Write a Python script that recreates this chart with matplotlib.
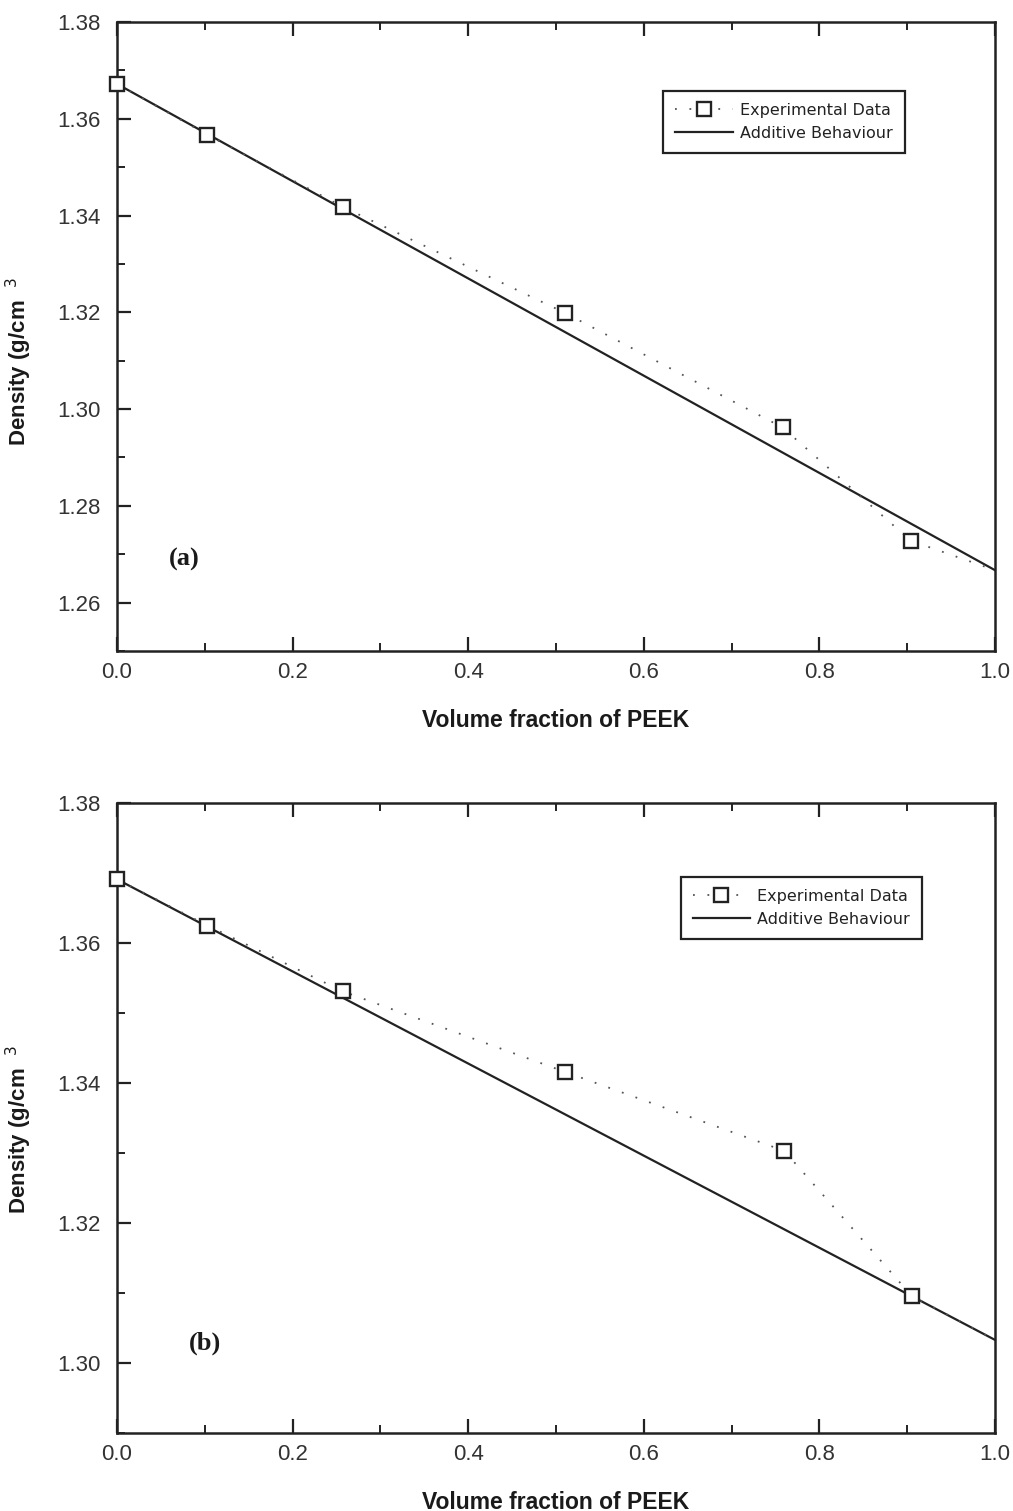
import matplotlib
matplotlib.use("Agg")
import matplotlib.pyplot as plt
from matplotlib.ticker import MultipleLocator, FormatStrFormatter

# Volume fraction of PEEK for the measured blends
frac_a = [0.0, 0.103, 0.257, 0.510, 0.758, 0.904]
dens_a = [1.3672, 1.3567, 1.3418, 1.3199, 1.2962, 1.2728]
frac_b = [0.0, 0.103, 0.257, 0.510, 0.760, 0.905]
dens_b = [1.3691, 1.3625, 1.3531, 1.3416, 1.3303, 1.3096]

# Pure components (x = 0 and x = 1) define the additive rule
pure_x = [0.0, 1.0]
pure_a = [1.3672, 1.2667]
pure_b = [1.3691, 1.3033]

panels = [
    dict(x=frac_a, y=dens_a, pure=pure_a, ylim=(1.25, 1.38), tag="(a)",
         rect=[117, 22, 995, 651], tagpos=(0.077, 0.145),
         leg=(0.622, 0.891), ylab_y=0.461),
    dict(x=frac_b, y=dens_b, pure=pure_b, ylim=(1.29, 1.38), tag="(b)",
         rect=[117, 803, 995, 1433], tagpos=(0.100, 0.143),
         leg=(0.642, 0.8825), ylab_y=0.4825),
]

W, H = 1013, 1511
fig = plt.figure(figsize=(W / 100, H / 100), dpi=100)

for p in panels:
    l, t, r, b = p["rect"]
    ax = fig.add_axes([l / W, 1 - b / H, (r - l) / W, (b - t) / H])

    # experimental curve continues to the pure-PEEK density
    xs = list(p["x"]) + [pure_x[1]]
    ys = list(p["y"]) + [p["pure"][1]]
    ax.plot(xs, ys, color="#555555", lw=1.3, linestyle=(0, (1, 7)),
            marker="s", markersize=9.5, markerfacecolor="white",
            markeredgecolor="#222222", markeredgewidth=1.7,
            markevery=list(range(len(p["x"]))),
            label="Experimental Data", clip_on=False, zorder=3)
    ax.plot(pure_x, p["pure"], color="#222222", lw=1.6,
            label="Additive Behaviour", zorder=2)

    ax.set_xlim(0, 1.0)
    ax.set_ylim(*p["ylim"])
    ax.xaxis.set_major_locator(MultipleLocator(0.2))
    ax.xaxis.set_minor_locator(MultipleLocator(0.1))
    ax.yaxis.set_major_locator(MultipleLocator(0.02))
    ax.yaxis.set_minor_locator(MultipleLocator(0.01))
    ax.xaxis.set_major_formatter(FormatStrFormatter("%.1f"))
    ax.yaxis.set_major_formatter(FormatStrFormatter("%.2f"))

    ax.tick_params(axis="both", which="both", direction="in",
                   top=True, right=False, color="#222222")
    ax.tick_params(which="major", length=10, width=1.6)
    ax.tick_params(which="minor", length=6, width=1.4)
    ax.tick_params(axis="x", which="major", pad=8)
    ax.tick_params(axis="y", which="major", pad=12)
    for lab in ax.get_xticklabels() + ax.get_yticklabels():
        lab.set_fontfamily("Liberation Sans")
        lab.set_fontsize(16)
        lab.set_color("#333333")

    for s in ax.spines.values():
        s.set_linewidth(1.8)
        s.set_color("#222222")

    ax.set_xlabel("Volume fraction of PEEK", fontsize=16.5,
                  fontweight="bold", family="Liberation Sans", color="#1a1a1a")
    ax.xaxis.set_label_coords(0.5, -0.092)
    ax.set_ylabel("Density (g/cm  $^{3}$", fontsize=16,
                  fontweight="bold", family="Liberation Sans", color="#1a1a1a")
    ax.yaxis.set_label_coords(-0.0945, p["ylab_y"])

    ax.text(p["tagpos"][0], p["tagpos"][1], p["tag"], transform=ax.transAxes,
            fontsize=19, fontweight="bold", family="Liberation Serif",
            color="#1a1a1a", ha="center", va="center")

    leg = ax.legend(loc="upper left", bbox_to_anchor=p["leg"],
                    fancybox=False, framealpha=1, edgecolor="#222222",
                    prop={"family": "DejaVu Sans", "size": 11.5},
                    handlelength=3.6, handletextpad=0.45,
                    borderpad=0.75, labelspacing=0.5, borderaxespad=0)
    leg.get_frame().set_linewidth(1.6)
    for txt in leg.get_texts():
        txt.set_color("#222222")

fig.savefig("out.png", dpi=100, facecolor="white")
